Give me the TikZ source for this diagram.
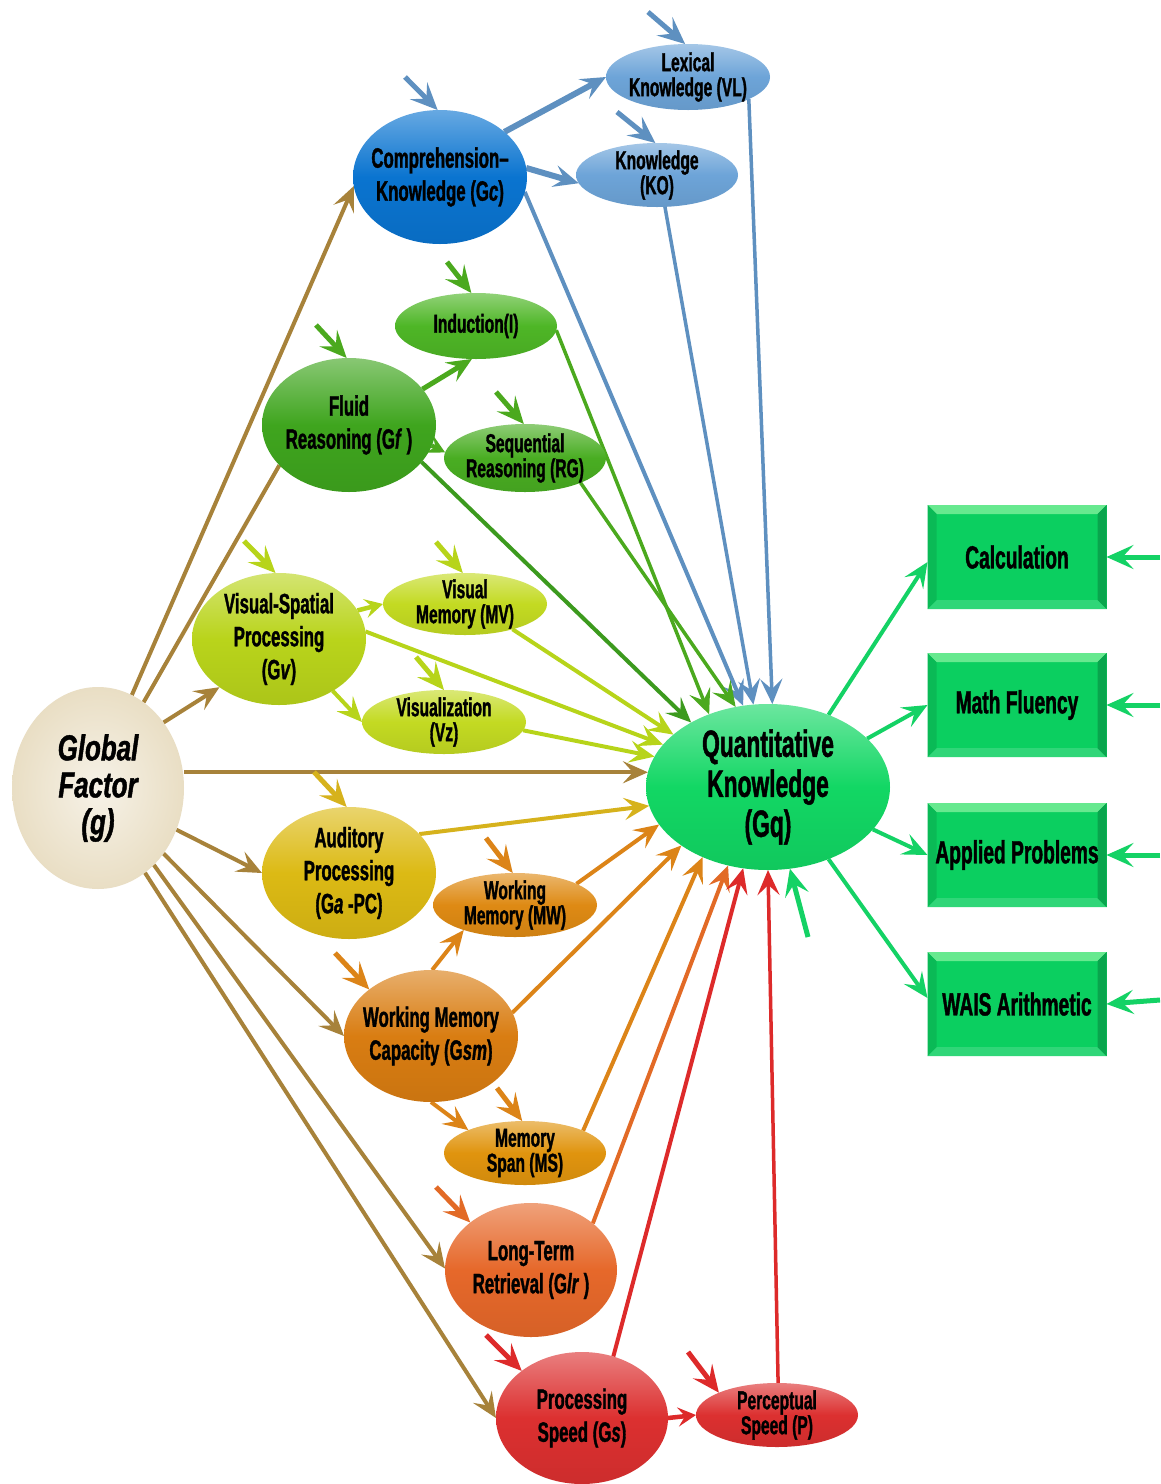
\documentclass[tikz,border=0pt]{standalone}
\usepackage{fontspec}
\newfontfamily\condfont{Liberation Sans}[FakeStretch=0.6,
  BoldFeatures={FakeBold=1.2}, BoldItalicFeatures={FakeBold=1.2}]
\newfontfamily\gfont{Liberation Sans}[FakeStretch=0.72,
  BoldItalicFeatures={FakeBold=1.2}]
\usetikzlibrary{shapes.geometric,arrows.meta}
\pgfdeclarelayer{paper}
\pgfdeclarelayer{edges}
\pgfsetlayers{paper,edges,main}
% fills
\definecolor{cG}{HTML}{E9DEC4}
\definecolor{cGc}{HTML}{0A74D0}
\definecolor{cVL}{HTML}{6DA4D8}
\definecolor{cInd}{HTML}{4EB626}
\definecolor{cGf}{HTML}{3FA51E}
\definecolor{cRG}{HTML}{49AD22}
\definecolor{cGv}{HTML}{B9D41B}
\definecolor{cMV}{HTML}{C3DA22}
\definecolor{cGq}{HTML}{12D764}
\definecolor{cGa}{HTML}{DCBA14}
\definecolor{cMW}{HTML}{DE8A14}
\definecolor{cGsm}{HTML}{D97D12}
\definecolor{cMS}{HTML}{E0940E}
\definecolor{cGlr}{HTML}{E6682A}
\definecolor{cGs}{HTML}{DC3030}
\definecolor{cBox}{HTML}{0BCF60}
% connector colours
\definecolor{lBrown}{HTML}{A7823A}
\definecolor{lBlue}{HTML}{5E90C0}
\definecolor{lGrn}{HTML}{4BA91E}
\definecolor{lGrnD}{HTML}{3C9A1E}
\definecolor{lYG}{HTML}{B7D41A}
\definecolor{lYel}{HTML}{D6B21C}
\definecolor{lOr}{HTML}{DC8418}
\definecolor{lOrR}{HTML}{E26A26}
\definecolor{lRed}{HTML}{DD2A2A}
\definecolor{lGq}{HTML}{14D265}
\begin{document}
\begin{tikzpicture}[x=1pt,y=-1pt,
  ell/.style 2 args={ellipse, inner sep=0pt, outer sep=0pt,
    minimum width=#1, minimum height=#2},
  shd/.style={top color=#1!62!white, bottom color=#1!93!black, middle color=#1},
  big/.style={font=\condfont\bfseries\fontsize{28}{33}\selectfont, align=center, inner sep=0pt},
  small/.style={font=\condfont\bfseries\fontsize{26}{25}\selectfont, align=center, inner sep=0pt},
  ln/.style={line width=4pt, -{Stealth[length=25pt,width=22pt,inset=10pt]}},
  short/.style={line width=4.5pt, -{Stealth[length=18pt,width=19pt,inset=7pt]}},
  stub/.style={line width=5pt, -{Stealth[length=27pt,width=24pt,inset=11pt]}},
  tbox/.style={rectangle, inner sep=0pt, outer sep=0pt, minimum width=179pt,
    minimum height=104pt, fill=cBox,
    font=\condfont\bfseries\fontsize{32}{34}\selectfont,
    path picture={
      \fill[cBox!55!white!85!green] (path picture bounding box.north west) -- (path picture bounding box.north east)
        -- ([xshift=-9pt,yshift=-9pt]path picture bounding box.north east)
        -- ([xshift=9pt,yshift=-9pt]path picture bounding box.north west) -- cycle;
      \fill[cBox!85!white] (path picture bounding box.south west) -- (path picture bounding box.south east)
        -- ([xshift=-9pt,yshift=9pt]path picture bounding box.south east)
        -- ([xshift=9pt,yshift=9pt]path picture bounding box.south west) -- cycle;
      \fill[cBox!80!black] (path picture bounding box.north east) -- (path picture bounding box.south east)
        -- ([xshift=-9pt,yshift=9pt]path picture bounding box.south east)
        -- ([xshift=-9pt,yshift=-9pt]path picture bounding box.north east) -- cycle;
      \fill[cBox!90!black] (path picture bounding box.north west) -- (path picture bounding box.south west)
        -- ([xshift=9pt,yshift=9pt]path picture bounding box.south west)
        -- ([xshift=9pt,yshift=-9pt]path picture bounding box.north west) -- cycle;
    }},
]
\begin{pgfonlayer}{paper}
\fill[white] (0,0) rectangle (1160,1484);
\end{pgfonlayer}
\useasboundingbox (0,0) rectangle (1160,1484);

% ---- ability ellipses ----
\node[ell={172pt}{202pt}, inner color=cG!40!white, outer color=cG] (g) at (98,788) {};
\node[font=\gfont\bfseries\itshape\fontsize{36}{37}\selectfont, align=center, inner sep=0pt] (g-t) at (g) {Global\\Factor\\(g)};

\node[ell={174pt}{134pt}, shd=cGc] (Gc) at (440,177) {};
\node[big] (Gc-t) at (Gc) {Comprehension–\\Knowledge (G\textit{c})};
\node[ell={164pt}{66pt}, shd=cVL] (VL) at (688,77) {};
\node[small] (VL-t) at (VL) {Lexical\\Knowledge (VL)};
\node[ell={162pt}{64pt}, shd=cVL] (KO) at (657,175) {};
\node[small] (KO-t) at (KO) {Knowledge\\(KO)};

\node[ell={162pt}{66pt}, shd=cInd] (Ind) at (476,326) {};
\node[small] (Ind-t) at (Ind) {Induction(I)};
\node[ell={174pt}{134pt}, shd=cGf] (Gf) at (349,425) {};
\node[big] (Gf-t) at (Gf) {Fluid\\Reasoning (G\textit{f}\,)};
\node[ell={162pt}{68pt}, shd=cRG] (RG) at (525,458) {};
\node[small] (RG-t) at (RG) {Sequential\\Reasoning (RG)};

\node[ell={174pt}{132pt}, shd=cGv] (Gv) at (279,639) {};
\node[big] (Gv-t) at (Gv) {Visual-Spatial\\Processing\\(G\textit{v})};
\node[ell={164pt}{62pt}, shd=cMV] (MV) at (465,604) {};
\node[small] (MV-t) at (MV) {Visual\\Memory (MV)};
\node[ell={164pt}{64pt}, shd=cMV] (Vz) at (444,722) {};
\node[small] (Vz-t) at (Vz) {Visualization\\(Vz)};

\node[ell={244pt}{166pt}, shd=cGq] (Gq) at (768,787) {};
\node[font=\condfont\bfseries\fontsize{38}{40}\selectfont, align=center, inner sep=0pt] (Gq-t) at (Gq) {Quantitative\\Knowledge\\(Gq)};

\node[ell={174pt}{132pt}, shd=cGa] (Ga) at (349,873) {};
\node[big] (Ga-t) at (Ga) {Auditory\\Processing\\(G\textit{a} -PC)};
\node[ell={164pt}{64pt}, shd=cMW] (MW) at (515,905) {};
\node[small] (MW-t) at (MW) {Working\\Memory (MW)};
\node[ell={174pt}{132pt}, shd=cGsm] (Gsm) at (431,1036) {};
\node[big] (Gsm-t) at (Gsm) {Working Memory\\Capacity (G\textit{sm})};
\node[ell={162pt}{64pt}, shd=cMS] (MS) at (525,1153) {};
\node[small] (MS-t) at (MS) {Memory\\Span (MS)};
\node[ell={172pt}{134pt}, shd=cGlr] (Glr) at (531,1270) {};
\node[big] (Glr-t) at (Glr) {Long-Term\\Retrieval (G\textit{lr}\,)};
\node[ell={172pt}{132pt}, shd=cGs] (Gs) at (582,1418) {};
\node[big] (Gs-t) at (Gs) {Processing\\Speed (G\textit{s})};
\node[ell={162pt}{64pt}, shd=cGs] (P) at (777,1415) {};
\node[small] (P-t) at (P) {Perceptual\\Speed (P)};

% ---- achievement measures ----
\node[tbox] (Calc) at (1017,557) {Calculation};
\node[tbox] (MF) at (1017,705) {Math Fluency};
\node[tbox] (AP) at (1017,855) {Applied Problems};
\node[tbox] (WAIS) at (1017,1004) {WAIS Arithmetic};

% free ends of the residual arrows
\coordinate (sGc) at (405,77);
\coordinate (sVL) at (648,12);
\coordinate (sKO) at (617,112);
\coordinate (sInd) at (447,262);
\coordinate (sGf) at (316,325);
\coordinate (sRG) at (496,392);
\coordinate (sGv) at (244,541);
\coordinate (sMV) at (436,542);
\coordinate (sVz) at (416,657);
\coordinate (sGa) at (314,772);
\coordinate (sMW) at (486,838);
\coordinate (sGsm) at (335,953);
\coordinate (sMS) at (497,1088);
\coordinate (sGlr) at (436,1187);
\coordinate (sGs) at (486,1335);
\coordinate (sP) at (688,1352);
\coordinate (sGq) at (808,937);
\coordinate (sCalc) at (1160,557);
\coordinate (sMF) at (1160,705);
\coordinate (sAP) at (1160,855);
\coordinate (sWAIS) at (1160,1000);

\begin{pgfonlayer}{edges}
% global factor
\draw[ln, lBrown] (g.70) -- (Gc.-174);
\draw[lBrown, line width=4pt] (g.62) -- (Gf.-150);
\draw[ln, lBrown] (g.45) -- (Gv.-141);
\draw[ln, lBrown] (g.east |- Gq.173) -- (Gq.173);
\draw[ln, lBrown] (g.-28) -- (Ga.180);
\draw[ln, lBrown] (g.-45) -- (Gsm.180);
\draw[ln, lBrown] (g.-54) -- (Glr.179);
\draw[ln, lBrown] (g.-61) -- (Gs.180);
% comprehension-knowledge
\draw[ln, lBlue, line width=6pt] (Gc.35) -- (VL.180);
\draw[ln, lBlue, line width=6pt] (Gc.6) -- (KO.-174);
\draw[ln, lBlue] (Gc.-10) -- (Gq.107);
\draw[ln, lBlue, line width=3.5pt] (VL.-20) -- (Gq.87);
\draw[ln, lBlue, line width=3.5pt] (KO.-76) -- (Gq.100);
\draw[stub, lBlue] (sGc) -- (Gc.92);
\draw[stub, lBlue] (sVL) -- (VL.95);
\draw[stub, lBlue] (sKO) -- (KO.93);
% fluid reasoning
\draw[ln, lGrn, line width=5pt] (Gf.26) -- (Ind.-97);
\draw[short, lGrn] (Gf.-14) -- (RG.176);
\draw[ln, lGrnD] (Gf.-27) -- (Gq.140);
\draw[ln, lGrn, line width=3.5pt] (Ind.-3) -- (Gq.129);
\draw[ln, lGrn, line width=3.5pt] (RG.-24) -- (Gq.112);
\draw[stub, lGrn] (sInd) -- (Ind.98);
\draw[stub, lGrn] (sGf) -- (Gf.92);
\draw[stub, lGrn] (sRG) -- (RG.92);
% visual-spatial processing
\draw[short, lYG] (Gv.20) -- (MV.180);
\draw[ln, lYG] (Gv.-44) -- (Vz.180);
\draw[ln, lYG] (Gv.5) -- (Gq.158);
\draw[ln, lYG] (MV.-28) -- (Gq.151);
\draw[ln, lYG] (Vz.-6) -- (Gq.165);
\draw[stub, lYG] (sGv) -- (Gv.93);
\draw[stub, lYG] (sMV) -- (MV.94);
\draw[stub, lYG] (sVz) -- (Vz.90);
% auditory processing
\draw[ln, lYel] (Ga.29) -- (Gq.-171);
\draw[stub, lYel] (sGa) -- (Ga.92);
% working memory
\draw[ln, lOr] (Gsm.89) -- (MW.-154);
\draw[ln, lOr] (Gsm.16) -- (Gq.-146);
\draw[ln, lOr] (Gsm.-90) -- (MS.158);
\draw[ln, lOr] (MW.19) -- (Gq.-161);
\draw[ln, lOr] (MS.21) -- (Gq.-133);
\draw[stub, lOr] (sGsm) -- (Gsm.143);
\draw[stub, lOr] (sMW) -- (MW.94);
\draw[stub, lOr] (sMS) -- (MS.95);
% long-term retrieval
\draw[ln, lOrR] (Glr.37) -- (Gq.-117);
\draw[stub, lOrR] (sGlr) -- (Glr.142);
% processing speed
\draw[ln, lRed] (Gs.63) -- (Gq.-107);
\draw[short, lRed] (Gs.0) -- (P.180);
\draw[ln, lRed, line width=3.5pt] (P.88) -- (Gq.-90);
\draw[stub, lRed] (sGs) -- (Gs.142);
\draw[stub, lRed] (sP) -- (P.159);
% quantitative knowledge and its measures
\draw[stub, lGq] (sGq) -- (Gq.-75);
\draw[ln, lGq] (Gq.50) -- ([yshift=-5pt]Calc.west);
\draw[ln, lGq] (Gq.26) -- (MF.west);
\draw[ln, lGq] (Gq.-22) -- (AP.west);
\draw[ln, lGq] (Gq.-50) -- ([yshift=6pt]WAIS.west);
\draw[stub, lGq] (sCalc) -- (Calc.east);
\draw[stub, lGq] (sMF) -- (MF.east);
\draw[stub, lGq] (sAP) -- (AP.east);
\draw[stub, lGq] (sWAIS) -- (WAIS.east);
\end{pgfonlayer}
\end{tikzpicture}
\end{document}
